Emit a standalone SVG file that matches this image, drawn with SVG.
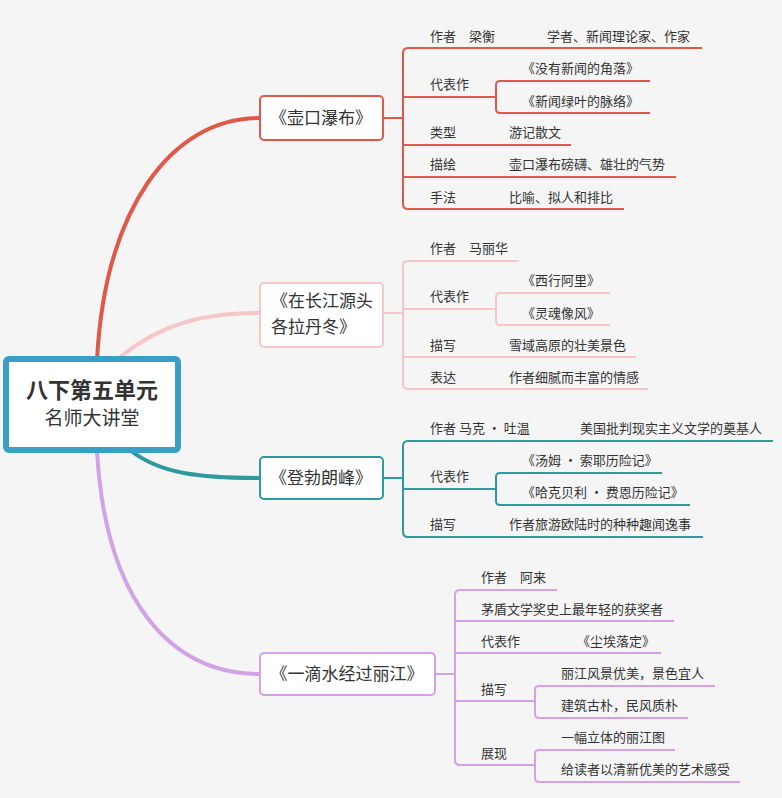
<svg xmlns="http://www.w3.org/2000/svg" width="782" height="798" viewBox="0 0 782 798">
<style>
text{font-family:"Noto Sans CJK SC","Noto Sans",sans-serif;fill:#333}
.t{font-size:13px}
.b{font-size:17px}
.box{fill:#fff;stroke-width:2}
.l{fill:none;stroke-width:2}
.r{stroke:#e0584a}.p{stroke:#f7c6c6}.g{stroke:#2f9a9e}.v{stroke:#d2a2e6}
</style>
<rect width="782" height="798" fill="#f5f5f5"/>
<g id="connectors" fill="none">
<path d="M97,360 C105,210 170,118 260,118" class="r" stroke-width="4"/>
<path d="M120,357 C160,325 200,313 260,313" class="p" stroke-width="4"/>
<path d="M130,450 C160,474 200,478 260,478" class="g" stroke-width="4"/>
<path d="M97,450 C105,600 170,674 260,674" class="v" stroke-width="4"/>
<g class="l r"><path d="M383,118H403"/><path d="M702,48H408q-5,0-5,5V204q0,5,5,5H624"/><path d="M403,97H495"/><path d="M650,81H500q-4,0-4,4V109q0,4,4,4H650"/><path d="M403,145H571M403,177H676"/></g>
<g class="l p"><path d="M383,313H403"/><path d="M519,261H408q-5,0-5,5V384q0,5,5,5H648"/><path d="M403,309H495"/><path d="M610,293H500q-4,0-4,4V321q0,4,4,4H610"/><path d="M403,357H636"/></g>
<g class="l g"><path d="M383,478H403"/><path d="M773,441H408q-5,0-5,5V532q0,5,5,5H703"/><path d="M403,489H495"/><path d="M662,473H500q-4,0-4,4V501q0,4,4,4H690"/></g>
<g class="l v"><path d="M435,674H455"/><path d="M557,590H460q-5,0-5,5V760q0,5,5,5H535"/><path d="M455,621H674M455,653H661M455,701H535"/><path d="M715,686H539q-4,0-4,4V714q0,4,4,4H688"/><path d="M675,750H539q-4,0-4,4V778q0,4,4,4H740"/></g>
</g>
<g id="center"><rect x="6" y="359" width="172" height="91" rx="3" fill="#fff" stroke="#3a9fc4" stroke-width="6"/>
<text x="92" y="398" text-anchor="middle" font-size="22" font-weight="bold" fill="#222">八下第五单元</text>
<text x="92" y="425" text-anchor="middle" font-size="19" style="font-family:'Noto Sans CJK SC',serif">名师大讲堂</text></g>
<g id="n1"><rect x="260" y="96" width="123" height="44" rx="4" class="box r"/><text x="321" y="124" text-anchor="middle" class="b">《壶口瀑布》</text>
<text x="430" y="41" class="t">作者　梁衡</text><text x="547" y="41" class="t">学者、新闻理论家、作家</text>
<text x="430" y="89" class="t">代表作</text><text x="522" y="73" class="t">《没有新闻的角落》</text><text x="522" y="106" class="t">《新闻绿叶的脉络》</text>
<text x="430" y="137" class="t">类型</text><text x="509" y="137" class="t">游记散文</text>
<text x="430" y="169" class="t">描绘</text><text x="509" y="169" class="t">壶口瀑布磅礴、雄壮的气势</text>
<text x="430" y="202" class="t">手法</text><text x="509" y="202" class="t">比喻、拟人和排比</text></g>
<g id="n2"><rect x="260" y="283" width="123" height="64" rx="4" class="box p"/><text x="271" y="307" class="b">《在长江源头</text><text x="271" y="333" class="b">各拉丹冬》</text>
<text x="430" y="253" class="t">作者　马丽华</text>
<text x="430" y="301" class="t">代表作</text><text x="522" y="285" class="t">《西行阿里》</text><text x="522" y="318" class="t">《灵魂像风》</text>
<text x="430" y="350" class="t">描写</text><text x="509" y="350" class="t">雪域高原的壮美景色</text>
<text x="430" y="382" class="t">表达</text><text x="509" y="382" class="t">作者细腻而丰富的情感</text></g>
<g id="n3"><rect x="260" y="457" width="123" height="42" rx="4" class="box g"/><text x="321" y="484" text-anchor="middle" class="b">《登勃朗峰》</text>
<text x="430" y="433" class="t">作者 马克 · 吐温</text><text x="580" y="433" class="t">美国批判现实主义文学的奠基人</text>
<text x="430" y="481" class="t">代表作</text><text x="522" y="465" class="t">《汤姆 · 索耶历险记》</text><text x="522" y="497" class="t">《哈克贝利 · 费恩历险记》</text>
<text x="430" y="529" class="t">描写</text><text x="509" y="529" class="t">作者旅游欧陆时的种种趣闻逸事</text></g>
<g id="n4"><rect x="260" y="653" width="175" height="42" rx="4" class="box v"/><text x="347" y="680" text-anchor="middle" class="b">《一滴水经过丽江》</text>
<text x="481" y="582" class="t">作者　阿来</text>
<text x="481" y="614" class="t">茅盾文学奖史上最年轻的获奖者</text>
<text x="481" y="646" class="t">代表作</text><text x="577" y="646" class="t">《尘埃落定》</text>
<text x="481" y="694" class="t">描写</text><text x="561" y="678" class="t">丽江风景优美，景色宜人</text><text x="561" y="710" class="t">建筑古朴，民风质朴</text>
<text x="481" y="758" class="t">展现</text><text x="561" y="742" class="t">一幅立体的丽江图</text><text x="561" y="774" class="t">给读者以清新优美的艺术感受</text></g>
</svg>
